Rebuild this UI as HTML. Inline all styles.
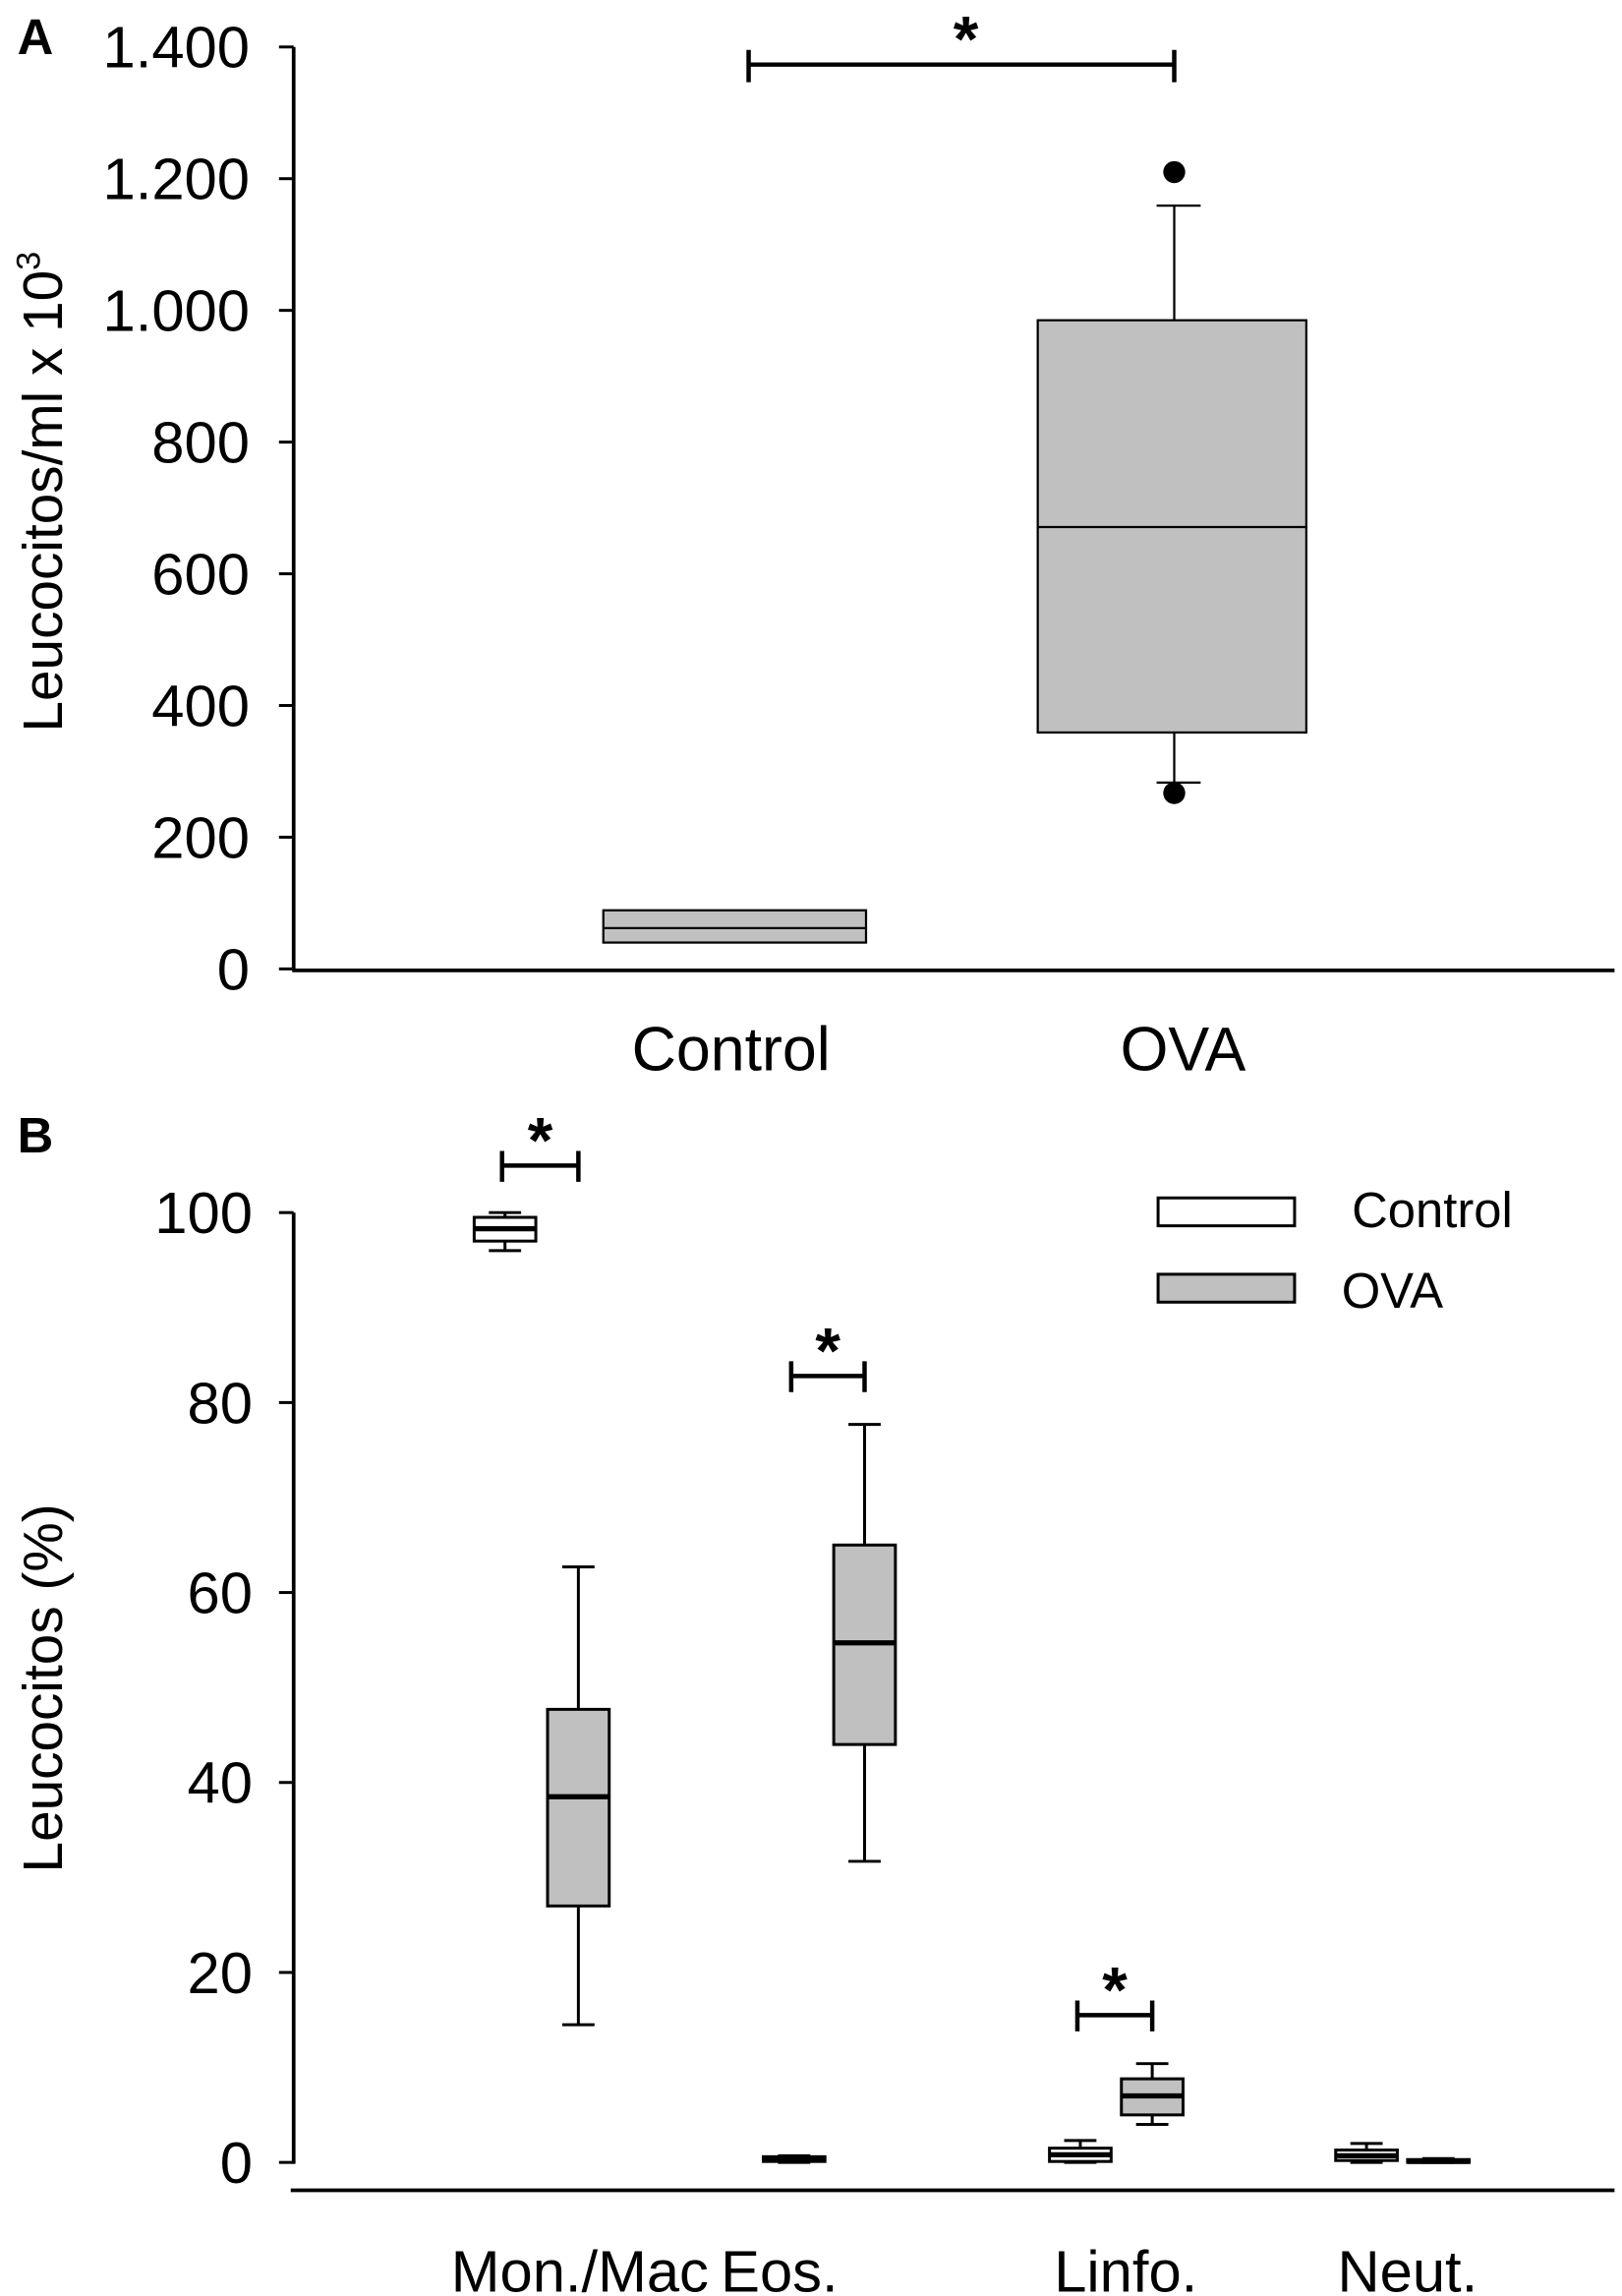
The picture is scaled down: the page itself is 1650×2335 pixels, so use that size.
<!DOCTYPE html>
<html><head><meta charset="utf-8"><style>
html,body{margin:0;padding:0;background:#fff}
svg{display:block}
text{font-family:"Liberation Sans",Arial,sans-serif;fill:#000}
</style></head><body>
<svg id="fig" width="1650" height="2335" viewBox="0 0 1105 1564" xmlns="http://www.w3.org/2000/svg"></svg>
<script>
// Panel A data
const aCategories = ["Control", "OVA"];
const aCenters = [500, 800];
const aQ1 = [40, 359];
const aMedian = [62, 671];
const aQ3 = [89, 985];
const aWhiskLow = [null, 283];
const aWhiskHigh = [null, 1159];
const aOutliers = [[], [1210, 267]];
const aTicks = [0, 200, 400, 600, 800, 1000, 1200, 1400];
const aTickLabels = ["0", "200", "400", "600", "800", "1.000", "1.200", "1.400"];

// Panel B data
const bCategories = ["Mon./Mac", "Eos.", "Linfo.", "Neut."];
const bCtrlQ1 = [97, 0.1, 0.1, 0.2];
const bCtrlMed = [98.3, 0.3, 0.8, 0.7];
const bCtrlQ3 = [99.5, 0.6, 1.5, 1.3];
const bCtrlLow = [96, 0, 0, 0];
const bCtrlHigh = [100, 0.7, 2.3, 2];
const bOvaQ1 = [27, 44, 5, 0];
const bOvaMed = [38.5, 54.7, 7, 0.1];
const bOvaQ3 = [47.7, 65, 8.8, 0.3];
const bOvaLow = [14.5, 31.7, 4, 0];
const bOvaHigh = [62.7, 77.7, 10.4, 0.4];
const bTicks = [0, 20, 40, 60, 80, 100];
const bCtrlX = [344, 541, 736, 931];
const bOvaX = [394, 589, 785, 980];
const bLabelX = [395, 531, 767, 959];
const bSig = [0, 1, 2];

const svg = document.getElementById('fig');
const NS = "http://www.w3.org/2000/svg";
function mk(tag, attrs, parent) {
  const e = document.createElementNS(NS, tag);
  for (const k in attrs) e.setAttribute(k, attrs[k]);
  (parent || svg).appendChild(e);
  return e;
}
function txt(s, x, y, size, anchor, parent, extra) {
  const t = mk('text', Object.assign({x: x, y: y, 'font-size': size, 'text-anchor': anchor || 'middle'}, extra || {}), parent);
  t.textContent = s;
  return t;
}

// ---------- Panel A ----------
const yA = v => 660 - v * (628 / 1400);
const gA = mk('g', {});


const pA = txt('A', 24, 37, 34, 'middle', gA, {'font-weight': 'bold'});


const axA = mk('path', {d: 'M200 32 V661 M199 661 H1100', stroke: '#000', 'stroke-width': 2.5, fill: 'none'}, gA);


aTicks.forEach((v, i) => {
  const tk = mk('line', {x1: 190, x2: 200, y1: yA(v), y2: yA(v), stroke: '#000', 'stroke-width': 2}, gA);
  
  
  const tl = txt(aTickLabels[i], 170, yA(v) + 14, 40, 'end', gA);
  
  
});
const ylA = txt('Leucocitos/ml x 10', 0, 0, 38, 'middle', gA, {transform: 'translate(42,335) rotate(-90)'});
const sup = mk('tspan', {'font-size': 23, dy: -15}, ylA);
sup.textContent = '3';


aCategories.forEach((c, i) => {
  const cx = aCenters[i];
  const g = mk('g', {}, gA);
  
  
  if (aWhiskHigh[i] !== null) {
    mk('line', {x1: cx, x2: cx, y1: yA(aWhiskHigh[i]), y2: yA(aQ3[i]), stroke: '#000', 'stroke-width': 1.5}, g);
    mk('line', {x1: cx - 12, x2: cx + 18, y1: yA(aWhiskHigh[i]), y2: yA(aWhiskHigh[i]), stroke: '#000', 'stroke-width': 1.5}, g);
    mk('line', {x1: cx, x2: cx, y1: yA(aQ1[i]), y2: yA(aWhiskLow[i]), stroke: '#000', 'stroke-width': 1.5}, g);
    mk('line', {x1: cx - 12, x2: cx + 18, y1: yA(aWhiskLow[i]), y2: yA(aWhiskLow[i]), stroke: '#000', 'stroke-width': 1.5}, g);
  }
  const bx = i === 0 ? 411 : 707, bw = i === 0 ? 179 : 183;
  mk('rect', {x: bx, y: yA(aQ3[i]), width: bw, height: yA(aQ1[i]) - yA(aQ3[i]), fill: '#c0c0c0', stroke: '#000', 'stroke-width': 1.5}, g);
  mk('line', {x1: bx, x2: bx + bw, y1: yA(aMedian[i]), y2: yA(aMedian[i]), stroke: '#000', 'stroke-width': 1.5}, g);
  aOutliers[i].forEach(o => {
    const d = mk('circle', {cx: cx, cy: yA(o), r: 7.5, fill: '#000'}, g);
    
    
  });
  const xl = txt(c, i === 0 ? 498 : 806, 729, 42, 'middle', gA);
  
  
});
const sigA = mk('g', {}, gA);


mk('path', {d: 'M510 44 H800 M510 34 V56 M800 34 V56', stroke: '#000', 'stroke-width': 3, fill: 'none'}, sigA);
txt('*', 658, 42, 44, 'middle', sigA, {'font-weight': 'bold'});

// ---------- Panel B ----------
const yB = v => 1473 - v * (647 / 100);
const gB = mk('g', {});


const pB = txt('B', 24, 785, 34, 'middle', gB, {'font-weight': 'bold'});


const axB = mk('path', {d: 'M200 826 V1474 M198 1492 H1100', stroke: '#000', 'stroke-width': 2.5, fill: 'none'}, gB);


bTicks.forEach(v => {
  const tk = mk('line', {x1: 190, x2: 200, y1: yB(v), y2: yB(v), stroke: '#000', 'stroke-width': 2}, gB);
  
  
  const tl = txt(String(v), 172, yB(v) + 14, 40, 'end', gB);
  
  
});
const ylB = txt('Leucocitos (%)', 0, 0, 38, 'middle', gB, {transform: 'translate(42,1150) rotate(-90)'});



function boxB(cx, q1, med, q3, lo, hi, fill, name) {
  const g = mk('g', {}, gB);
  
  
  const hw = 21;
  mk('line', {x1: cx, x2: cx, y1: yB(hi), y2: yB(lo), stroke: '#000', 'stroke-width': 2}, g);
  mk('line', {x1: cx - 11, x2: cx + 11, y1: yB(hi), y2: yB(hi), stroke: '#000', 'stroke-width': 2}, g);
  mk('line', {x1: cx - 11, x2: cx + 11, y1: yB(lo), y2: yB(lo), stroke: '#000', 'stroke-width': 2}, g);
  mk('rect', {x: cx - hw, y: yB(q3), width: 2 * hw, height: Math.max(yB(q1) - yB(q3), 1.5), fill: fill, stroke: '#000', 'stroke-width': 2}, g);
  mk('line', {x1: cx - hw, x2: cx + hw, y1: yB(med), y2: yB(med), stroke: '#000', 'stroke-width': 3.5}, g);
}
bCategories.forEach((c, i) => {
  boxB(bCtrlX[i], bCtrlQ1[i], bCtrlMed[i], bCtrlQ3[i], bCtrlLow[i], bCtrlHigh[i], '#fff', 'panel-b-box-control-' + i);
  boxB(bOvaX[i], bOvaQ1[i], bOvaMed[i], bOvaQ3[i], bOvaLow[i], bOvaHigh[i], '#c0c0c0', 'panel-b-box-ova-' + i);
  const xl = txt(c, bLabelX[i], 1561, 40, 'middle', gB);
  
  
});
bSig.forEach(i => {
  const x1 = bCtrlX[i] - 2, x2 = bOvaX[i];
  const top = Math.max(bCtrlHigh[i], bOvaHigh[i]);
  const y = i === 0 ? 794 : yB(top) - 33;
  const g = mk('g', {}, gB);
  
  
  mk('path', {d: 'M' + x1 + ' ' + y + ' H' + x2 + ' M' + x1 + ' ' + (y - 10) + ' V' + (y + 11) + ' M' + x2 + ' ' + (y - 10) + ' V' + (y + 11), stroke: '#000', 'stroke-width': 3, fill: 'none'}, g);
  txt('*', (x1 + x2) / 2, y - 2, 44, 'middle', g, {'font-weight': 'bold'});
});
// legend
const lg = mk('g', {}, gB);


const le1 = mk('g', {}, lg);


mk('rect', {x: 789, y: 816, width: 93, height: 19, fill: '#fff', stroke: '#000', 'stroke-width': 2}, le1);
txt('Control', 921, 836, 34, 'start', le1);
const le2 = mk('g', {}, lg);


mk('rect', {x: 789, y: 868, width: 93, height: 19, fill: '#c0c0c0', stroke: '#000', 'stroke-width': 2}, le2);
txt('OVA', 914, 891, 34, 'start', le2);
</script>
</body></html>
